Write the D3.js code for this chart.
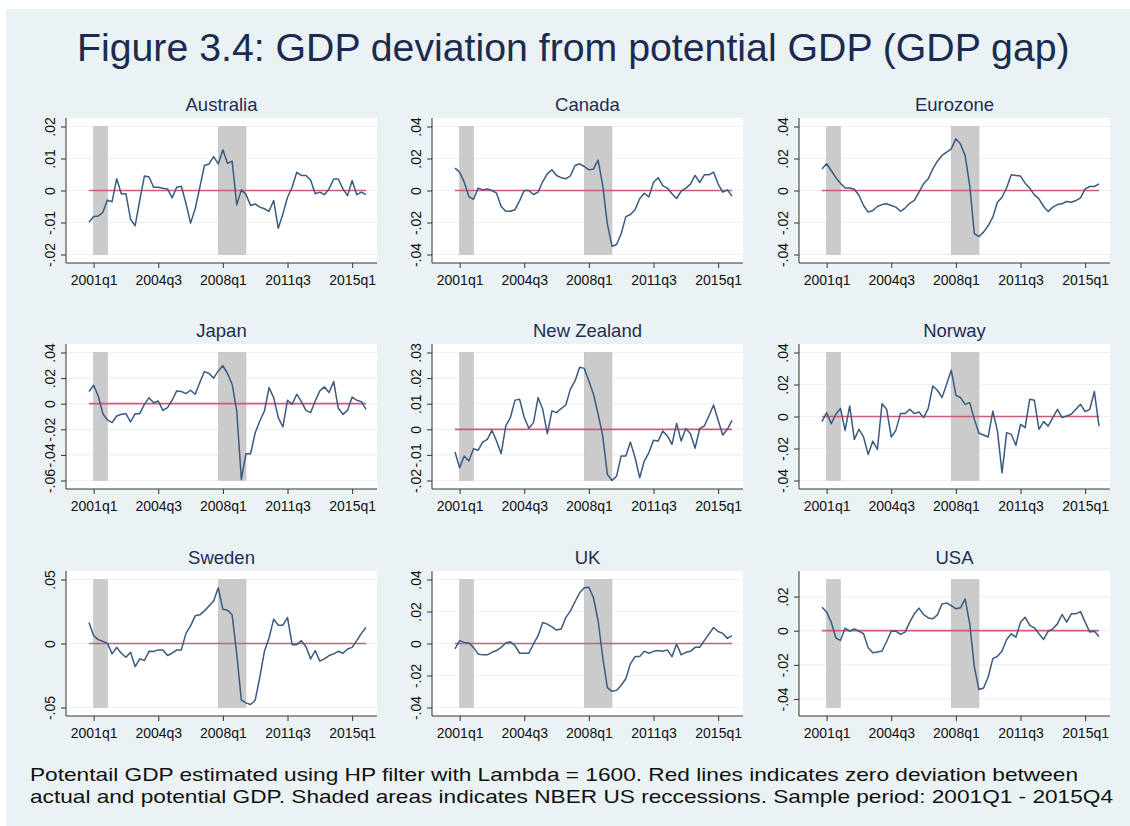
<!DOCTYPE html>
<html>
<head>
<meta charset="utf-8">
<script src="https://cdn.jsdelivr.net/npm/d3@7"></script>
<style>
  body { margin: 0; background: #fff; }
  text { font-family: "Liberation Sans", Arial, Helvetica, sans-serif; }
</style>
</head>
<body>
<svg id="chart" width="1130" height="826"></svg>
<script>
// quarters from 2000q4 to 2015q4 (61 points per series)
var quarters = ["2000q4"];
for (var yr = 2001; yr <= 2015; yr++) {
    for (var q = 1; q <= 4; q++) quarters.push(yr + "q" + q);
}

var xTickLabels = ["2001q1", "2004q3", "2008q1", "2011q3", "2015q1"];

// NBER US recessions (start, end)
var recessions = [["2001q1", "2001q4"], ["2007q4", "2009q2"]];

// GDP gap series
var australia = [
    -0.0099,-0.0081,-0.008,-0.0068,-0.003,-0.0035,0.0037,-0.001,-0.001,-0.009,
    -0.011,-0.003,0.0045,0.0042,0.001,0.001,0.0007,0.0005,-0.0023,0.001,
    0.0013,-0.004,-0.0102,-0.0057,0.001,0.0078,0.0083,0.0106,0.0083,0.0127,
    0.0085,0.0092,-0.0045,0.0002,-0.0012,-0.0047,-0.0042,-0.0052,-0.0057,-0.0065,
    -0.0031,-0.0118,-0.0073,-0.0021,0.001,0.0057,0.0047,0.0047,0.0033,-0.001,
    -0.0005,-0.0013,0.0005,0.0036,0.0036,0.0005,-0.0016,0.0031,-0.0013,-0.0005,
    -0.0013];
var canada = [
    0.014,0.0115,0.0052,-0.0038,-0.0056,0.0015,0.0004,0.001,0,-0.0017,
    -0.01,-0.013,-0.013,-0.012,-0.0063,0,0,-0.0025,-0.001,0.0056,
    0.0104,0.013,0.0094,0.008,0.0073,0.0092,0.0156,0.0167,0.015,0.0129,
    0.0135,0.019,0.003,-0.021,-0.0348,-0.0338,-0.027,-0.0163,-0.015,-0.012,
    -0.0052,-0.0017,-0.004,0.0052,0.008,0.003,0.0015,-0.002,-0.005,-0.0004,
    0.0015,0.004,0.0094,0.005,0.0098,0.0098,0.0115,0.004,-0.001,0.0004,
    -0.0035];
var eurozone = [
    0.0135,0.0167,0.0125,0.008,0.0046,0.0015,0.0015,0.0008,-0.003,-0.0094,
    -0.0135,-0.0125,-0.01,-0.0088,-0.0083,-0.0094,-0.0104,-0.013,-0.011,-0.008,
    -0.0062,-0.001,0.0042,0.0073,0.0135,0.0183,0.0219,0.024,0.026,0.0323,
    0.029,0.0219,0.003,-0.027,-0.0288,-0.026,-0.0219,-0.0167,-0.0073,-0.0042,
    0.0017,0.0098,0.0094,0.009,0.0046,0.0015,-0.0027,-0.0052,-0.01,-0.0131,
    -0.0104,-0.0088,-0.0083,-0.0069,-0.0073,-0.0063,-0.0046,0.001,0.0025,0.0025,
    0.0042];
var japan = [
    0.0095,0.0144,0.006,-0.0078,-0.0127,-0.0148,-0.0096,-0.0083,-0.0078,-0.0143,
    -0.0078,-0.0078,-0.0005,0.0047,0.0008,0.0021,-0.0052,-0.0031,0.0027,0.01,
    0.0095,0.0079,0.0105,0.0074,0.0165,0.0251,0.0236,0.02,0.0256,0.0296,
    0.0236,0.0152,-0.0057,-0.0592,-0.0391,-0.0391,-0.0227,-0.0135,-0.0057,0.0126,
    0.0047,-0.0109,-0.0182,0.0027,-0.0005,0.0074,0.0016,-0.0052,-0.007,0.0021,
    0.01,0.0131,0.0087,0.0173,-0.0036,-0.0083,-0.0052,0.0052,0.0027,0.0016,
    -0.0044];
var newZealand = [
    -0.0089,-0.015,-0.0104,-0.0124,-0.0076,-0.0082,-0.005,-0.0039,-0.0004,-0.0046,
    -0.0095,0.0013,0.0046,0.0114,0.0117,0.0046,0.0004,0.0026,0.0124,0.0078,
    -0.0017,0.0072,0.0065,0.0081,0.0095,0.0157,0.0189,0.0242,0.0238,0.0189,
    0.0137,0.0059,-0.0026,-0.0176,-0.02,-0.0183,-0.0104,-0.0104,-0.005,-0.011,
    -0.0189,-0.0124,-0.0091,-0.0043,-0.0046,-0.0007,-0.0026,-0.0059,0.0023,-0.0046,
    0.0003,-0.0017,-0.0074,0.0003,0.0013,0.0052,0.0095,0.0035,-0.0022,0,
    0.0035];
var norway = [
    -0.0032,0.0024,-0.0045,0.0014,0.0051,-0.0087,0.0066,-0.0143,-0.008,-0.0128,
    -0.0237,-0.0154,-0.0206,0.008,0.0045,-0.0128,-0.0087,0.0018,0.0018,0.0045,
    0.0018,0.0028,-0.0007,0.0049,0.0191,0.0164,0.0118,0.0202,0.0289,0.0133,
    0.0118,0.0076,0.0087,-0.0018,-0.0105,-0.0116,-0.0128,0.0034,-0.009,-0.0352,
    -0.0101,-0.0112,-0.018,-0.0049,-0.007,0.0108,0.0101,-0.008,-0.0032,-0.006,
    -0.0007,0.0045,-0.0007,0.0003,0.0014,0.0045,0.0076,0.003,0.0045,0.0156,
    -0.006];
var sweden = [
    0.0164,0.0061,0.003,0.0017,0.0001,-0.0081,-0.003,-0.0076,-0.0107,-0.0068,
    -0.018,-0.012,-0.0133,-0.0061,-0.0063,-0.005,-0.005,-0.0094,-0.0076,-0.005,
    -0.005,0.0079,0.0138,0.0216,0.0224,0.0255,0.0293,0.0332,0.0435,0.0267,
    0.026,0.0224,-0.0081,-0.0443,-0.0464,-0.0477,-0.0443,-0.0262,-0.0061,0.0043,
    0.019,0.0143,0.0143,0.0203,-0.0009,-0.0009,0.0022,-0.0025,-0.012,-0.0056,
    -0.0138,-0.012,-0.0094,-0.0081,-0.0061,-0.0076,-0.0043,-0.003,0.0022,0.0079,
    0.0125];
var uk = [
    -0.0034,0.0018,0.0007,0.0003,-0.0024,-0.0065,-0.0071,-0.0071,-0.0055,-0.0044,
    -0.0024,0.0003,0.0011,-0.0013,-0.0061,-0.0061,-0.0061,-0.0003,0.0049,0.0131,
    0.0121,0.0104,0.0084,0.009,0.0162,0.0204,0.0261,0.0317,0.0348,0.0352,
    0.0286,0.0142,-0.0086,-0.0276,-0.0299,-0.0293,-0.0261,-0.022,-0.0127,-0.0082,
    -0.0082,-0.0049,-0.0061,-0.0049,-0.0044,-0.0049,-0.004,-0.0082,-0.0003,-0.0071,
    -0.0055,-0.0049,-0.0024,-0.0024,0.0018,0.0059,0.01,0.0075,0.0063,0.0032,
    0.0049];
var usa = [
    0.0138,0.0109,0.005,-0.0043,-0.0057,0.0015,-0.0003,0.0011,-0.0003,-0.0018,
    -0.01,-0.0129,-0.0125,-0.0119,-0.0063,-0.0003,-0.0003,-0.0022,-0.0008,0.005,
    0.0099,0.0132,0.0095,0.0075,0.007,0.0093,0.0157,0.0163,0.0147,0.0128,
    0.0134,0.0186,0.004,-0.0213,-0.0345,-0.0336,-0.0271,-0.0164,-0.015,-0.0119,
    -0.0051,-0.0018,-0.0038,0.005,0.0079,0.0031,0.0017,-0.0018,-0.0051,-0.0003,
    0.0011,0.004,0.0095,0.005,0.0099,0.0099,0.0112,0.005,-0.0008,-0.0003,
    -0.0034];

// y tick values for each panel
var australiaTicks = [-0.02, -0.01, 0, 0.01, 0.02];
var pm04Ticks = [-0.04, -0.02, 0, 0.02, 0.04];
var japanTicks = [-0.06, -0.04, -0.02, 0, 0.02, 0.04];
var nzTicks = [-0.02, -0.01, 0, 0.01, 0.02, 0.03];
var swedenTicks = [-0.05, 0, 0.05];
var usaTicks = [-0.04, -0.02, 0, 0.02];

// vertical extent of the shaded recession bars
var australiaShade = [-0.02, 0.02];
var pm04Shade = [-0.04, 0.04];
var japanShade = [-0.06, 0.04];
var nzShade = [-0.02, 0.03];
var swedenShade = [-0.05, 0.05];
var usaShade = [-0.045, 0.03];

var countries = ["Australia", "Canada", "Eurozone", "Japan", "New Zealand", "Norway", "Sweden", "UK", "USA"];
var series = [australia, canada, eurozone, japan, newZealand, norway, sweden, uk, usa];
var ticks = [australiaTicks, pm04Ticks, pm04Ticks, japanTicks, nzTicks, pm04Ticks, swedenTicks, pm04Ticks, usaTicks];
var shades = [australiaShade, pm04Shade, pm04Shade, japanShade, nzShade, pm04Shade, swedenShade, pm04Shade, usaShade];

var svg = d3.select("#chart");

// stata like background with a thin white strip top/left
svg.append("rect").attr("x", 0).attr("y", 0).attr("width", 1130).attr("height", 826).attr("fill", "#fff");
svg.append("rect").attr("x", 6).attr("y", 9).attr("width", 1124).attr("height", 817).attr("fill", "#eaf2f3");

// stata style tick label: ".02", "-.02", "0" (plain hyphen, not unicode minus)
function fmt(d) {
    if (d === 0) return "0";
    return d3.format(".2f")(d).replace("\u2212", "-").replace("0.", ".");
}

class Panel {

    constructor(opts) {
        this.svg = opts.svg;
        this.name = opts.name;
        this.values = opts.values;
        this.ticks = opts.ticks;
        this.shade = opts.shade;
        this.left = opts.left;
        this.top = opts.top;
        this.width = 311;
        this.height = 145;
        this.draw();
    }

    draw() {
        var left = this.left, top = this.top, w = this.width, h = this.height;
        var bottom = top + h;
        var g = this.svg.append("g");

        var x = d3.scalePoint().domain(quarters).range([left + 23, left + 300]);
        var y = d3.scaleLinear().domain(this.shade).range([bottom - 8.5, top + 8.5]);

        // white plot region
        g.append("rect").attr("x", left).attr("y", top).attr("width", w).attr("height", h).attr("fill", "#fff");

        // gridlines
        g.selectAll(".grid").data(this.ticks).enter().append("line")
            .attr("x1", left).attr("x2", left + w)
            .attr("y1", d => y(d)).attr("y2", d => y(d))
            .attr("stroke", "#eaf2f3").attr("stroke-width", 1.2);

        // recession bars
        var shade = this.shade;
        g.selectAll(".rec").data(recessions).enter().append("rect")
            .attr("x", d => x(d[0]))
            .attr("width", d => x(d[1]) - x(d[0]))
            .attr("y", y(shade[1]))
            .attr("height", y(shade[0]) - y(shade[1]))
            .attr("fill", "#cbcbcb").attr("stroke", "#bfbfbf").attr("stroke-width", 0.6);

        // red zero line
        g.append("line")
            .attr("x1", x(quarters[0])).attr("x2", x(quarters[quarters.length - 1]))
            .attr("y1", y(0)).attr("y2", y(0))
            .attr("stroke", "#d05a78").attr("stroke-width", 1.7);

        // series
        var line = d3.line().x((d, i) => x(quarters[i])).y(d => y(d));
        g.append("path").datum(this.values)
            .attr("d", line)
            .attr("fill", "none").attr("stroke", "#3a5a80").attr("stroke-width", 1.5)
            .attr("stroke-linejoin", "round");

        // axis frame lines
        g.append("line").attr("x1", left).attr("x2", left).attr("y1", top).attr("y2", bottom)
            .attr("stroke", "#333").attr("stroke-width", 1);
        g.append("line").attr("x1", left).attr("x2", left + w).attr("y1", bottom).attr("y2", bottom)
            .attr("stroke", "#333").attr("stroke-width", 1);

        // x axis
        var xa = g.append("g").attr("transform", "translate(0," + bottom + ")")
            .call(d3.axisBottom(x).tickValues(xTickLabels).tickSize(5).tickPadding(7));
        xa.select(".domain").remove();
        xa.selectAll("line").attr("stroke", "#333");
        xa.selectAll("text").attr("font-size", 14).attr("fill", "#111")
            .attr("font-family", '"Liberation Sans", Arial, sans-serif');

        // y axis, labels rotated like stata
        var ya = g.append("g").attr("transform", "translate(" + left + ",0)")
            .call(d3.axisLeft(y).tickValues(this.ticks).tickSize(5).tickFormat(fmt));
        ya.select(".domain").remove();
        ya.selectAll("line").attr("stroke", "#333");
        ya.selectAll("text")
            .attr("x", 0).attr("dy", 0)
            .attr("text-anchor", "middle")
            .attr("transform", "translate(-11,0) rotate(-90)")
            .attr("font-size", 14).attr("fill", "#111")
            .attr("font-family", '"Liberation Sans", Arial, sans-serif');

        // panel title
        g.append("text")
            .attr("x", left + w / 2).attr("y", top - 7)
            .attr("text-anchor", "middle")
            .attr("font-size", 18.5).attr("fill", "#1f2d54")
            .text(this.name);
    }
}

var colLeft = [66, 432, 799];
var rowTop = [118, 344, 571];

countries.forEach(function(c, i) {
    new Panel({
        svg: svg,
        name: c,
        values: series[i],
        ticks: ticks[i],
        shade: shades[i],
        left: colLeft[i % 3],
        top: rowTop[Math.floor(i / 3)]
    });
});

// scale a text so it spans the wanted width
function fitWidth(sel, target) {
    var len = sel.node().getComputedTextLength();
    var fs = parseFloat(sel.attr("font-size"));
    sel.attr("font-size", fs * target / len);
}

var title = svg.append("text")
    .attr("x", 77).attr("y", 61)
    .attr("font-size", 38).attr("fill", "#1c2a52")
    .text("Figure 3.4: GDP deviation from potential GDP (GDP gap)");
fitWidth(title, 993);

// footnote: keep the font small enough so the two lines don't collide,
// stretch it sideways to the width of the original
var notes = [
    "Potentail GDP estimated using HP filter with Lambda = 1600. Red lines indicates zero deviation between",
    "actual and potential GDP. Shaded areas indicates NBER US reccessions. Sample period: 2001Q1 - 2015Q4"
];
var noteWidths = [1048, 1083];
notes.forEach(function(t, i) {
    svg.append("text")
        .attr("x", 30).attr("y", 781 + i * 22)
        .attr("font-size", 18.5).attr("fill", "#111")
        .attr("textLength", noteWidths[i])
        .attr("lengthAdjust", "spacingAndGlyphs")
        .text(t);
});
</script>
</body>
</html>
